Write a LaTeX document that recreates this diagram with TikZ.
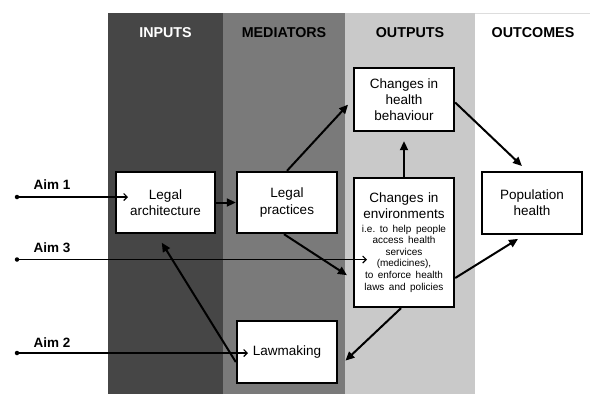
\documentclass[tikz,border=0pt]{standalone}
\usepackage{fontspec}
\setmainfont{Liberation Sans}
\usetikzlibrary{arrows.meta,calc}
\definecolor{colin}{HTML}{464646}
\definecolor{colmed}{HTML}{7A7A7A}
\definecolor{colout}{HTML}{C9C9C9}
\definecolor{topline}{HTML}{DDDDDD}
\frenchspacing
\begin{document}
\begin{tikzpicture}[x=1pt,y=-1pt,
  box/.style={draw=black,line width=2.4pt,fill=white,align=center,inner sep=2pt,minimum width=100pt,font=\fontsize{13.5}{16.3}\selectfont},
  hdr/.style={font=\bfseries\fontsize{14.3}{16}\selectfont,inner sep=0pt},
  aimlbl/.style={font=\bfseries\fontsize{13.5}{16}\selectfont,inner sep=0pt},
  flow/.style={line width=2pt,-{Triangle[length=9pt,width=8pt]}},
  aim/.style={line width=1.1pt,-{Straight Barb[length=3.5pt,width=7pt]}},
  dot/.style={circle,fill=black,inner sep=0pt,minimum size=4.5pt}]
\useasboundingbox (0,0) rectangle (590,394);
\fill[white] (0,0) rectangle (590,394);
% columns
\fill[colin] (108,13) rectangle (223,394);
\fill[colmed] (223,13) rectangle (345,394);
\fill[colout] (345,13) rectangle (475,394);
\draw[topline,line width=1pt] (475,13.5) -- (590,13.5);
% headers
\node[hdr,text=white] (hin) at (165.5,33) {INPUTS};
\node[hdr] (hmed) at (284,33) {MEDIATORS};
\node[hdr] (hout) at (410,33) {OUTPUTS};
\node[hdr] (hoc) at (533,33) {OUTCOMES};
% boxes
\node[box,minimum width=99pt,minimum height=61pt] (arch) at (165.5,202.5) {Legal\\architecture};
\node[box,minimum height=61pt] (prac) at (287,202.5) {Legal\\practices};
\node[box,minimum height=63pt] (behav) at (404,99.5) {Changes in\\health\\behaviour};
\node[box,text width=96pt,minimum height=129pt] (env) at (404,242.5)
  {{\fontsize{13.5}{16.3}\selectfont Changes in\\environments\par}\vspace{1.5pt}%
   {\fontsize{10}{11.6}\selectfont i.e. to help people\\access health\\services\\(medicines),\\to enforce health\\laws and policies\par}};
\node[box,minimum height=62pt] (pop) at (532,203) {Population\\health};
\node[box,minimum height=62pt] (law) at (287,352) {Lawmaking};
% flow arrows
\draw[flow] (arch.east) -- (prac.west);
\draw[flow,shorten >=7pt] (prac.north) -- (behav.west);
\draw[flow,shorten >=7pt] ($(prac.south)+(-3,0)$) -- ($(env.west)+(0,36.5)$);
\draw[flow,shorten >=9pt] (env.north) -- (behav.south);
\draw[flow,shorten >=7pt] ($(behav.east)+(0,3)$) -- ($(pop.north)+(-5,0)$);
\draw[flow,shorten >=7pt] ($(env.east)+(0,35.5)$) -- ($(pop.south)+(-8,0)$);
\draw[flow,shorten >=10pt] ($(env.south)+(-3,0)$) -- ($(law.east)+(0,15.5)$);
\draw[flow,shorten >=10pt] ($(law.west)+(0,10)$) -- ($(arch.south)+(-9,0)$);
% aims
\node[dot] (a1) at (17,197) {};
\node[dot] (a3) at (17,259.5) {};
\node[dot] (a2) at (17,353) {};
\coordinate (a1e) at (128,197);
\coordinate (a3e) at (367,259.5);
\coordinate (a2e) at (248,353);
\draw[aim] (a1.center) -- (a1e);
\draw[aim] (a3.center) -- (a3e);
\draw[aim] (a2.center) -- (a2e);
\node[aimlbl] (l1) at (52,185) {Aim 1};
\node[aimlbl] (l3) at (52,248) {Aim 3};
\node[aimlbl] (l2) at (52,342.5) {Aim 2};
\end{tikzpicture}
\end{document}
